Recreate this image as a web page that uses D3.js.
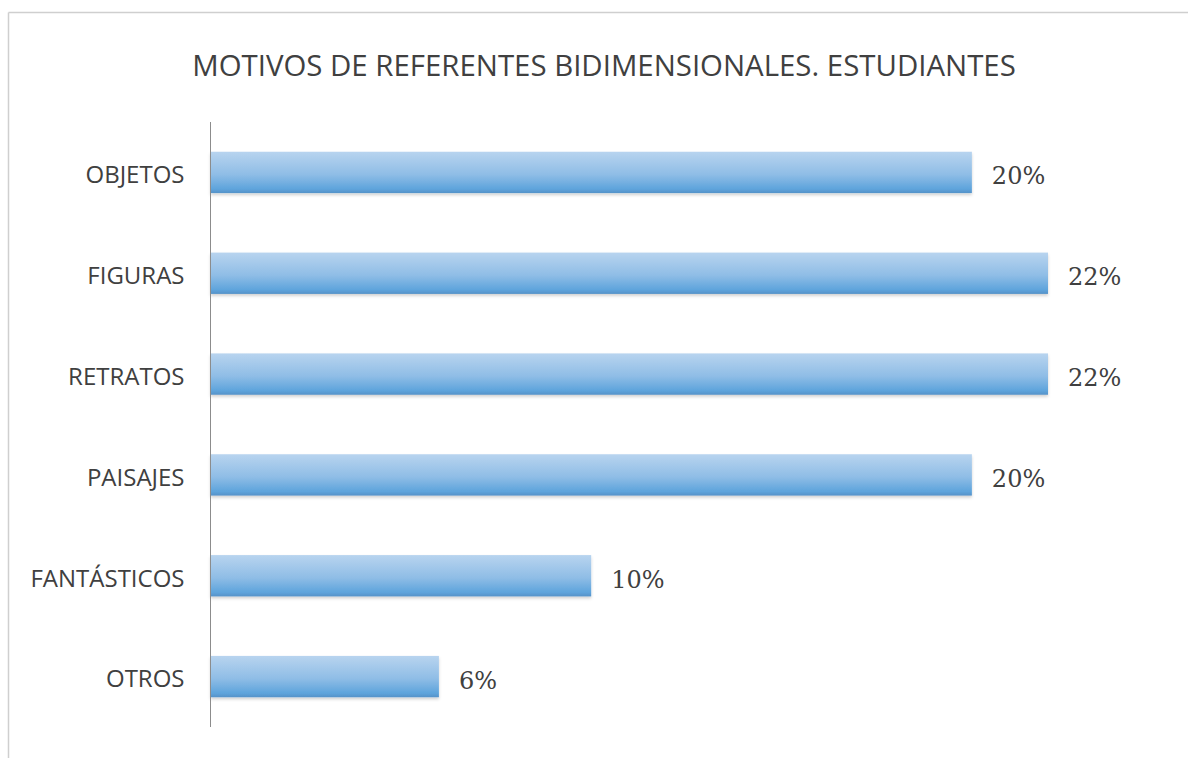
<!DOCTYPE html>
<html>
<head>
<meta charset="utf-8">
<script src="https://cdn.jsdelivr.net/npm/d3@7"></script>
<style>
  html, body { margin: 0; padding: 0; background: #fff; }
  svg { display: block; }
</style>
</head>
<body>
<svg id="chart" width="1188" height="758"></svg>
<script>
const categories = ["OBJETOS", "FIGURAS", "RETRATOS", "PAISAJES", "FANTÁSTICOS", "OTROS"];
const values = [20, 22, 22, 20, 10, 6];
const valueLabels = ["20%", "22%", "22%", "20%", "10%", "6%"];
const title = "MOTIVOS DE REFERENTES BIDIMENSIONALES. ESTUDIANTES";

(function () {
const svg = d3.select("#chart");
const W = 1188, H = 758;

// outer frame (top and left visible)
svg.append("line").attr("x1", 8.5).attr("y1", 12.5).attr("x2", W).attr("y2", 12.5)
  .attr("stroke", "#cfcfcf").attr("stroke-width", 1.5);
svg.append("line").attr("x1", 8.5).attr("y1", 12.5).attr("x2", 8.5).attr("y2", H)
  .attr("stroke", "#cfcfcf").attr("stroke-width", 1.5);

const defs = svg.append("defs");
const grad = defs.append("linearGradient").attr("id", "barGrad")
  .attr("x1", 0).attr("y1", 0).attr("x2", 0).attr("y2", 1);
grad.append("stop").attr("offset", "0%").attr("stop-color", "#b8d4ef");
grad.append("stop").attr("offset", "55%").attr("stop-color", "#8fbde6");
grad.append("stop").attr("offset", "90%").attr("stop-color", "#5ea4dc");
grad.append("stop").attr("offset", "100%").attr("stop-color", "#5692c8");

const filter = defs.append("filter").attr("id", "shadow")
  .attr("x", "-5%").attr("y", "-20%").attr("width", "110%").attr("height", "160%");
filter.append("feDropShadow").attr("dx", 0).attr("dy", 2).attr("stdDeviation", 1.5)
  .attr("flood-color", "#000").attr("flood-opacity", 0.18);

const mLeft = 210.5, mTop = 122, mBottom = 727;
const x = d3.scaleLinear().domain([0, 22]).range([mLeft, 1048]);
const y = d3.scaleBand().domain(categories).range([mTop, mBottom]).paddingInner(0.59).paddingOuter(0.295);

svg.append("text")
  .attr("x", 604).attr("y", 76)
  .attr("text-anchor", "middle")
  .attr("font-family", "'Open Sans', 'Noto Sans', sans-serif")
  .attr("font-size", 29.4)
  .attr("fill", "#404040")
  .text(title);

const data = categories.map((c, i) => ({ c, v: values[i], l: valueLabels[i] }));

svg.selectAll("rect.bar").data(data).enter().append("rect")
  .attr("class", "bar")
  .attr("x", mLeft)
  .attr("y", d => y(d.c))
  .attr("width", d => x(d.v) - mLeft)
  .attr("height", y.bandwidth())
  .attr("fill", "url(#barGrad)")
  .attr("filter", "url(#shadow)");

// axis
const axis = d3.axisLeft(y).tickSize(0).tickPadding(26);
const gAxis = svg.append("g").attr("transform", `translate(${mLeft},0)`).call(axis);
gAxis.select(".domain").attr("stroke", "#8c8c8c").attr("stroke-width", 1)
  .attr("d", `M0,${mTop}V${mBottom}`);
gAxis.selectAll(".tick text")
  .attr("font-family", "'Open Sans', 'Noto Sans', sans-serif")
  .attr("font-size", 24)
  .attr("dy", "0.45em")
  .attr("fill", "#404040");

svg.selectAll("text.val").data(data).enter().append("text")
  .attr("class", "val")
  .attr("x", d => x(d.v) + 20)
  .attr("y", d => y(d.c) + y.bandwidth() / 2)
  .attr("dy", "0.5em")
  .attr("font-family", "'DejaVu Serif', 'Liberation Serif', serif")
  .attr("font-size", 24)
  .attr("fill", "#404040")
  .text(d => d.l);
})();
</script>
</body>
</html>
